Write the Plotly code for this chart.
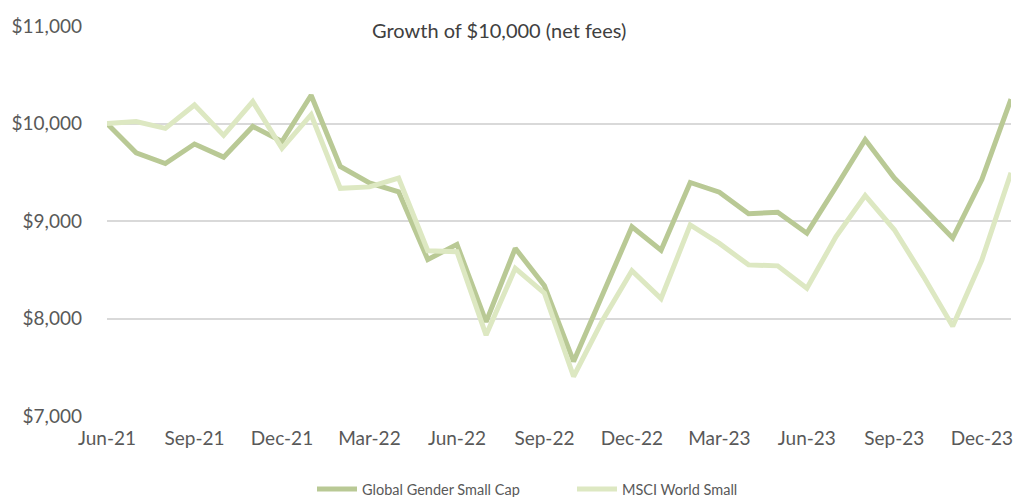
import plotly.graph_objects as go

months = ["Jun-21","Jul-21","Aug-21","Sep-21","Oct-21","Nov-21","Dec-21",
          "Jan-22","Feb-22","Mar-22","Apr-22","May-22","Jun-22","Jul-22","Aug-22","Sep-22","Oct-22","Nov-22","Dec-22",
          "Jan-23","Feb-23","Mar-23","Apr-23","May-23","Jun-23","Jul-23","Aug-23","Sep-23","Oct-23","Nov-23","Dec-23",
          "Jan-24"]

global_gender = [10000, 9700, 9590, 9790, 9655, 9970, 9815,
                 10290, 9560, 9390, 9300, 8605, 8760, 7965, 8720, 8335, 7560, 8255, 8940,
                 8700, 9395, 9295, 9075, 9090, 8875, 9350, 9835, 9440, 9130, 8825, 9425,
                 10250]

msci_world_small = [10000, 10020, 9950, 10190, 9878, 10225, 9745,
                    10090, 9335, 9350, 9440, 8695, 8685, 7830, 8515, 8260, 7405, 7985, 8490,
                    8205, 8960, 8770, 8550, 8540, 8310, 8840, 9260, 8910, 8430, 7920, 8600,
                    9495]

tick_labels = ["Jun-21","Sep-21","Dec-21","Mar-22","Jun-22","Sep-22","Dec-22","Mar-23","Jun-23","Sep-23","Dec-23"]
y_ticks = [7000, 8000, 9000, 10000, 11000]

FONT = "Lato, 'Open Sans', sans-serif"

fig = go.Figure()
fig.add_trace(go.Scatter(x=months, y=global_gender, mode="lines", name="Global Gender Small Cap",
                         line=dict(color="#B9C995", width=5)))
fig.add_trace(go.Scatter(x=months, y=msci_world_small, mode="lines", name="MSCI World Small",
                         line=dict(color="#DDE8C2", width=5)))

fig.update_layout(
    width=1013, height=497,
    margin=dict(l=107, r=2, t=26, b=81),
    paper_bgcolor="white", plot_bgcolor="white",
    font=dict(family=FONT, color="#595959", size=19),
    showlegend=True,
    legend=dict(orientation="h", xref="container", yref="container", x=0.308, y=0.016, xanchor="left", yanchor="middle",
                font=dict(size=14.5, color="#595959"), itemwidth=40, entrywidth=205, traceorder="normal"),
    annotations=[dict(text="Growth of $10,000 (net fees)", xref="paper", yref="paper", x=0.434, y=1.0,
                      xanchor="center", yanchor="middle", yshift=-4, showarrow=False,
                      font=dict(size=20, color="#404040", family=FONT))],
)
fig.update_xaxes(type="category", range=[0, len(months) - 1], tickvals=tick_labels, ticktext=tick_labels,
                 showgrid=False, showline=False, ticks="outside", ticklen=5, tickcolor="rgba(0,0,0,0)",
                 tickfont=dict(size=19, color="#595959"), zeroline=False, automargin=False)
fig.update_yaxes(range=[7000, 11000], tickvals=y_ticks, tickformat="$,.0f", showgrid=True,
                 gridcolor="#D9D9D9", gridwidth=1.5, zeroline=False, showline=False, automargin=False,
                 ticklabelstandoff=24, tickfont=dict(size=19, color="#595959"))

fig.write_html("out.html", config={"displayModeBar": False},
               post_script="document.body.style.margin='0';document.body.style.padding='0';")
